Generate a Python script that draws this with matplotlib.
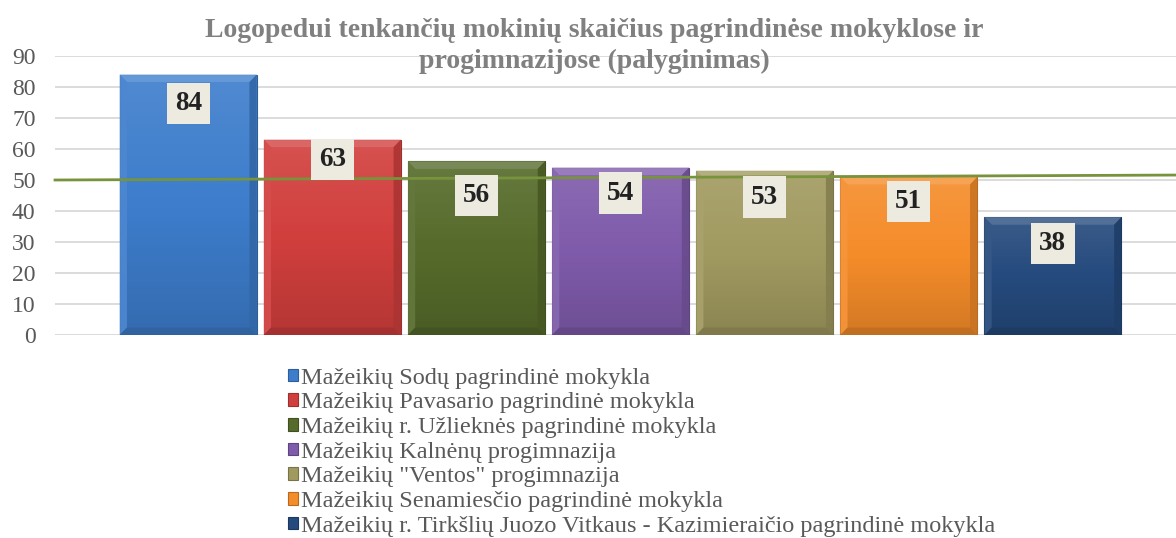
import matplotlib
matplotlib.use("Agg")
import matplotlib.pyplot as plt
import numpy as np
from matplotlib.colors import to_rgb
from matplotlib.patches import Polygon

plt.rcParams["font.family"] = ["Liberation Serif", "DejaVu Serif"]

# data
schools = [
    "Mažeikių Sodų pagrindinė mokykla",
    "Mažeikių Pavasario pagrindinė mokykla",
    "Mažeikių r. Užlieknės pagrindinė mokykla",
    "Mažeikių Kalnėnų progimnazija",
    "Mažeikių \"Ventos\" progimnazija",
    "Mažeikių Senamiesčio pagrindinė mokykla",
    "Mažeikių r. Tirkšlių Juozo Vitkaus - Kazimieraičio pagrindinė mokykla",
]
students = [84, 63, 56, 54, 53, 51, 38]
trend = [50.0, 51.6]  # trend line, left edge -> right edge
yticks = [0, 10, 20, 30, 40, 50, 60, 70, 80, 90]

title = ("Logopedui tenkančių mokinių skaičius pagrindinėse mokyklose ir\n"
         "progimnazijose (palyginimas)")

# styling
colors = ["#3d7dcc", "#d13f3d", "#566b2b", "#7f5bab", "#a19a60", "#f58c2a", "#254a7d"]
label_drop = [9.2, 6.4, 11.1, 8.2, 8.5, 8.0, 8.4]
bar_width = 0.95


def shade(color, f):
    r, g, b = to_rgb(color)
    if f > 0:
        return (r + (1 - r) * f, g + (1 - g) * f, b + (1 - b) * f)
    return (r * (1 + f), g * (1 + f), b * (1 + f))


fig = plt.figure(figsize=(11.76, 5.38), dpi=100)
ax = fig.add_axes([0.0468, 0.3773, 0.9532, 0.5186])

x = np.arange(len(students))
bars = []
for i, (name, val, col) in enumerate(zip(schools, students, colors)):
    b = ax.bar(x[i], val, width=bar_width, color=col, label=name, zorder=2,
               edgecolor=shade(col, -0.25), linewidth=0.8)
    bars.append(b)

# bevel + gradient on each bar
bx = 0.05   # bevel width (x data units)
by = 2.4    # bevel height (y data units)
t = np.linspace(0, 1, 64)
grad = np.zeros((64, 2, 4))
grad[:, :, :3] = np.where(t < 0.5, 1.0, 0.0)[:, None, None]
grad[:, :, 3] = np.where(t < 0.5, 0.10 * (1 - 2 * t), 0.14 * (2 * t - 1))[:, None]
for b, col in zip(bars, colors):
    p = b.patches[0]
    x0, w, h = p.get_x(), p.get_width(), p.get_height()
    x1 = x0 + w
    im = ax.imshow(grad, extent=(x0, x1, 0, h), aspect="auto", zorder=2.1,
                   origin="upper")
    im.set_clip_path(p)
    pieces = [
        ([(x0, h), (x1, h), (x1 - bx, h - by), (x0 + bx, h - by)], shade(col, 0.22)),
        ([(x0, 0), (x0, h), (x0 + bx, h - by), (x0 + bx, by)], shade(col, 0.08)),
        ([(x1, 0), (x1, h), (x1 - bx, h - by), (x1 - bx, by)], shade(col, -0.18)),
        ([(x0, 0), (x1, 0), (x1 - bx, by), (x0 + bx, by)], shade(col, -0.22)),
    ]
    for verts, c in pieces:
        ax.add_patch(Polygon(verts, closed=True, facecolor=c, edgecolor="none",
                             zorder=2.2, alpha=0.9))

# value labels
for i, val in enumerate(students):
    ax.text(x[i], val - label_drop[i], str(val), ha="center", va="center",
            fontsize=19.5, fontweight="bold", color="#222222", zorder=5,
            bbox=dict(boxstyle="square,pad=0.3", facecolor="#edebe0",
                      edgecolor="none"))

xlim = (-0.924, 6.854)
ax.plot(xlim, trend, color="#77933c", linewidth=2.0, zorder=4, clip_on=False)

ax.set_xlim(*xlim)
ax.set_ylim(0, 90)
ax.set_yticks(yticks)
ax.set_xticks([])
ax.grid(axis="y", color="#d9d9d9", linewidth=1.3, zorder=0)
ax.set_axisbelow(True)
for s in ax.spines.values():
    s.set_visible(False)
ax.tick_params(axis="y", length=0, pad=14, labelsize=17, labelcolor="#595959")

fig.text(0.505, 0.914, title, ha="center", va="center", fontsize=20,
         fontweight="bold", color="#808080", linespacing=1.3)

fig.legend(loc="upper left", bbox_to_anchor=(0.2445, 0.3164), frameon=False,
           fontsize=17.5, labelcolor="#595959", handlelength=0.42,
           handleheight=0.42, handletextpad=0.14, labelspacing=0.15,
           borderpad=0, borderaxespad=0)

fig.savefig("out.png", dpi=100)
